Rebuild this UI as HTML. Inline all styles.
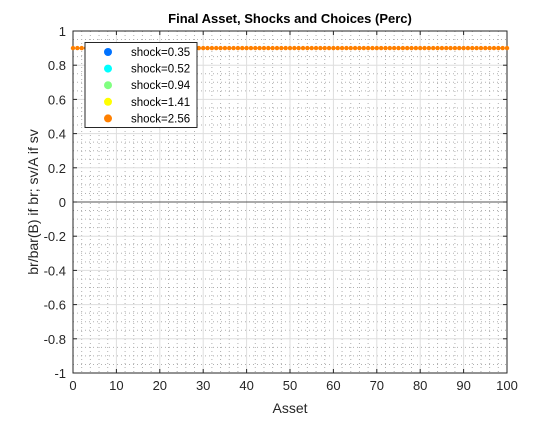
<!DOCTYPE html>
<html><head><meta charset="utf-8"><style>
body{margin:0;background:#fff;width:560px;height:420px;overflow:hidden;font-family:"Liberation Sans",sans-serif}
svg text{font-family:"Liberation Sans",sans-serif}
</style></head><body>
<svg id="chart" width="560" height="420" xmlns="http://www.w3.org/2000/svg">
<rect x="0" y="0" width="560" height="420" fill="#fff"/>
<g id="grid"></g>
<g id="axes"></g>
<g id="marks"></g>
<text x="290" y="23" text-anchor="middle" font-size="13" font-weight="bold" fill="#000">Final Asset, Shocks and Choices (Perc)</text>
<text x="290" y="413" text-anchor="middle" font-size="14" fill="#262626">Asset</text>
<text transform="translate(38,202) rotate(-90)" text-anchor="middle" font-size="14" fill="#262626">br/bar(B) if br; sv/A if sv</text>
<g id="legend"></g>
</svg>
<script>
const xTicks=[0,10,20,30,40,50,60,70,80,90,100];
const yTicks=[-1,-0.8,-0.6,-0.4,-0.2,0,0.2,0.4,0.6,0.8,1];
const yTickLabels=["-1","-0.8","-0.6","-0.4","-0.2","0","0.2","0.4","0.6","0.8","1"];
const shockLabels=["shock=0.35","shock=0.52","shock=0.94","shock=1.41","shock=2.56"];
const shockColors=["#0072ff","#00ffff","#80ff80","#ffff00","#ff8000"];
const assetValues=[0,1,2,3,4,5,6,7,8,9,10,11,12,13,14,15,16,17,18,19,20,21,22,23,24,25,26,27,28,29,30,31,32,33,34,35,36,37,38,39,40,41,42,43,44,45,46,47,48,49,50,51,52,53,54,55,56,57,58,59,60,61,62,63,64,65,66,67,68,69,70,71,72,73,74,75,76,77,78,79,80,81,82,83,84,85,86,87,88,89,90,91,92,93,94,95,96,97,98,99,100];
const choiceValues=[0.9,0.9,0.9,0.9,0.9,0.9,0.9,0.9,0.9,0.9,0.9,0.9,0.9,0.9,0.9,0.9,0.9,0.9,0.9,0.9,0.9,0.9,0.9,0.9,0.9,0.9,0.9,0.9,0.9,0.9,0.9,0.9,0.9,0.9,0.9,0.9,0.9,0.9,0.9,0.9,0.9,0.9,0.9,0.9,0.9,0.9,0.9,0.9,0.9,0.9,0.9,0.9,0.9,0.9,0.9,0.9,0.9,0.9,0.9,0.9,0.9,0.9,0.9,0.9,0.9,0.9,0.9,0.9,0.9,0.9,0.9,0.9,0.9,0.9,0.9,0.9,0.9,0.9,0.9,0.9,0.9,0.9,0.9,0.9,0.9,0.9,0.9,0.9,0.9,0.9,0.9,0.9,0.9,0.9,0.9,0.9,0.9,0.9,0.9,0.9,0.9];

const L=73,R=507,T=31,B=373;
const sx=v=>L+(v-0)/(100-0)*(R-L);
const sy=v=>B-(v+1)/2*(B-T);
const NS="http://www.w3.org/2000/svg";
function mk(tag,attrs,parent){const e=document.createElementNS(NS,tag);for(const k in attrs)e.setAttribute(k,attrs[k]);parent.appendChild(e);return e;}
const grid=document.getElementById('grid'),axes=document.getElementById('axes'),marks=document.getElementById('marks'),legend=document.getElementById('legend');
mk('rect',{x:L,y:T,width:R-L,height:B-T,fill:'#fff'},grid);
// minor grid
for(let v=0;v<=100;v+=2){if(v%10===0)continue;const l=mk('line',{x1:sx(v),x2:sx(v),y1:T,y2:B,stroke:'#b0b0b0','stroke-width':1,'stroke-dasharray':'1,3'},grid);}
for(let i=0;i<=40;i++){const v=-1+i*0.05;if(i%4===0)continue;const l=mk('line',{x1:L,x2:R,y1:sy(v),y2:sy(v),stroke:'#b0b0b0','stroke-width':1,'stroke-dasharray':'1,3'},grid);}
// major grid
xTicks.forEach(v=>{const l=mk('line',{x1:sx(v),x2:sx(v),y1:T,y2:B,stroke:'#dedede','stroke-width':1},grid);});
yTicks.forEach(v=>{const l=mk('line',{x1:L,x2:R,y1:sy(v),y2:sy(v),stroke:'#dedede','stroke-width':1},grid);});
// zero line
const z=mk('line',{x1:L,x2:R,y1:sy(0),y2:sy(0),stroke:'#555','stroke-width':1},axes);

// box
const box=mk('rect',{x:L,y:T,width:R-L,height:B-T,fill:'none',stroke:'#262626','stroke-width':1},axes);

xTicks.forEach(v=>{mk('line',{x1:sx(v),x2:sx(v),y1:B,y2:B-4,stroke:'#262626'},axes);mk('line',{x1:sx(v),x2:sx(v),y1:T,y2:T+4,stroke:'#262626'},axes);
const t=mk('text',{x:sx(v),y:B+17,'text-anchor':'middle','font-size':13,fill:'#262626'},axes);t.textContent=v;
});
yTicks.forEach((v,i)=>{mk('line',{x1:L,x2:L+4,y1:sy(v),y2:sy(v),stroke:'#262626'},axes);mk('line',{x1:R,x2:R-4,y1:sy(v),y2:sy(v),stroke:'#262626'},axes);
const t=mk('text',{x:L-7,y:sy(v)+5,'text-anchor':'end','font-size':13,fill:'#262626'},axes);t.textContent=yTickLabels[i];
});
// points
assetValues.forEach((a,i)=>{const c=mk('circle',{cx:sx(a),cy:sy(choiceValues[i]),r:2.2,fill:shockColors[4]},marks);
});
// legend
const lb=mk('rect',{x:85,y:42.5,width:112,height:85,fill:'#fff',stroke:'#262626','stroke-width':1},legend);

shockLabels.forEach((s,i)=>{const y=52+i*16.6;
const c=mk('circle',{cx:108,cy:y,r:4,fill:shockColors[i]},legend);

const t=mk('text',{x:131,y:y+4,'font-size':11.5,fill:'#000'},legend);t.textContent=s;
});
</script>
</body></html>
